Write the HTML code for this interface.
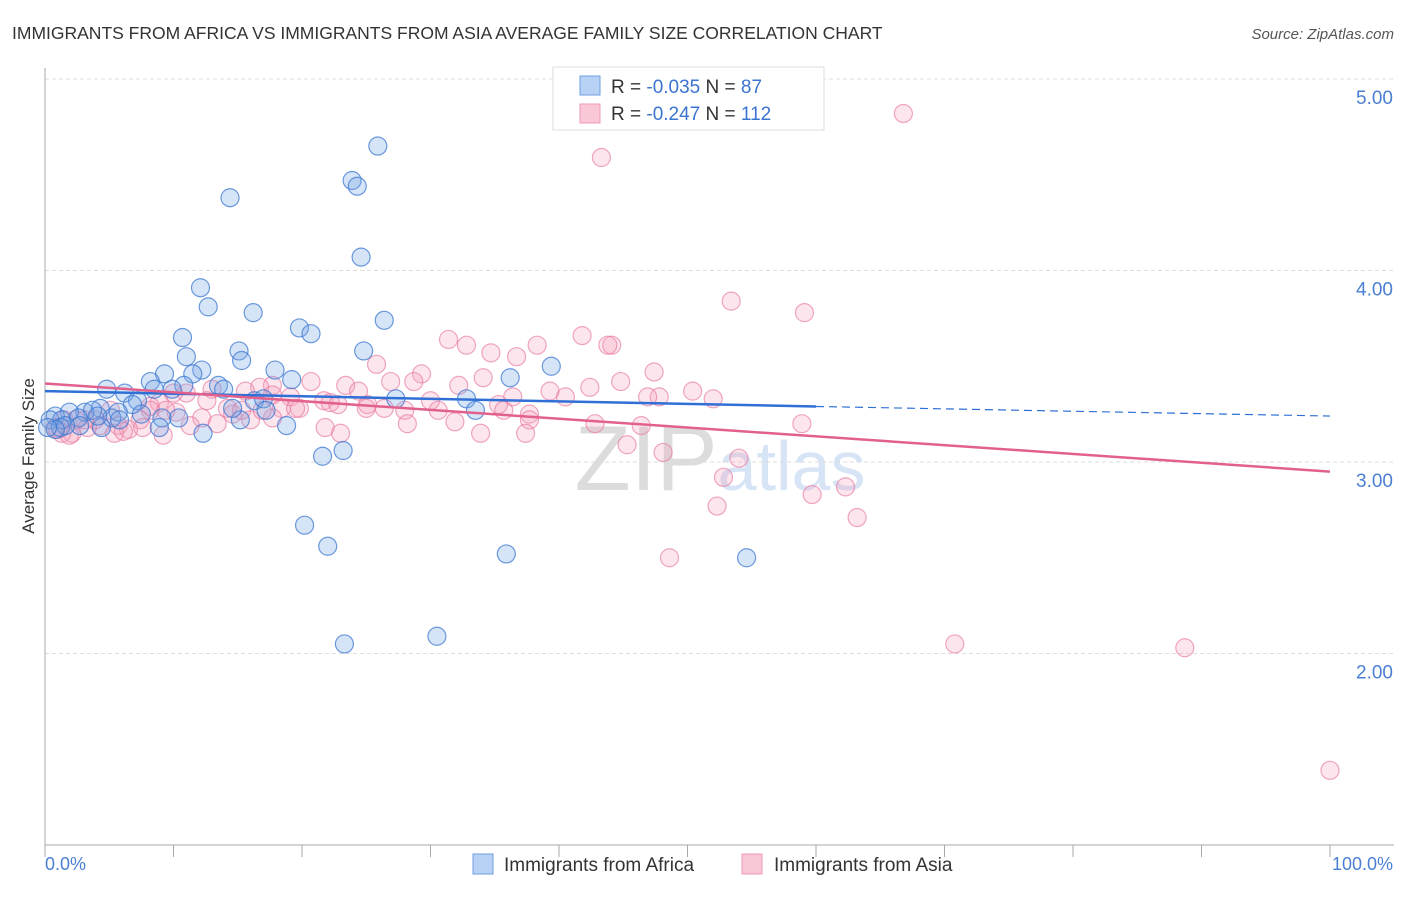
<!DOCTYPE html>
<html><head><meta charset="utf-8"><style>
body{margin:0;background:#fff;font-family:"Liberation Sans",sans-serif;}
svg text{font-family:"Liberation Sans",sans-serif;}
</style></head><body>
<svg id="chart" width="1406" height="892" viewBox="0 0 1406 892" xmlns="http://www.w3.org/2000/svg">
<text x="12" y="39" font-size="17.5" fill="#333">IMMIGRANTS FROM AFRICA VS IMMIGRANTS FROM ASIA AVERAGE FAMILY SIZE CORRELATION CHART</text>
<text x="1394" y="39" font-size="15" fill="#555" text-anchor="end" font-style="italic">Source: ZipAtlas.com</text>
<text x="720" y="490" font-size="92" text-anchor="middle" fill="#e6e6e6" font-family="Liberation Serif"><tspan fill="#dcdcdc">ZIP</tspan><tspan fill="#d6e4f5" font-family="Liberation Sans" font-size="70">atlas</tspan></text>
<g id="grid"></g><g id="axes"></g><g id="pts"></g><g id="trend"></g>
<text transform="translate(34,456) rotate(-90)" font-size="17" fill="#333" text-anchor="middle">Average Family Size</text>
<text x="45" y="870" font-size="18" fill="#4a7fd4">0.0%</text>
<text x="1393" y="870" font-size="18" fill="#4a7fd4" text-anchor="end">100.0%</text>
<g>
<rect x="553" y="67" width="271" height="63" fill="#fff" stroke="#ddd"/>
<rect x="580" y="76" width="20" height="19" fill="#b8d2f5" stroke="#6f9ee0"/>
<rect x="580" y="104" width="20" height="19" fill="#fac7d6" stroke="#ee9ab5"/>
<text x="611" y="93" font-size="19" fill="#333">R = <tspan fill="#3a74d0">-0.035</tspan>   N =  <tspan fill="#3a74d0">87</tspan></text>
<text x="611" y="120" font-size="19" fill="#333">R = <tspan fill="#3a74d0">-0.247</tspan>   N = <tspan fill="#3a74d0">112</tspan></text>
</g>
<g>
<rect x="473" y="854" width="20" height="20" fill="#b8d2f5" stroke="#6f9ee0"/>
<text x="504" y="871" font-size="19" fill="#333">Immigrants from Africa</text>
<rect x="742" y="854" width="20" height="20" fill="#fac7d6" stroke="#ee9ab5"/>
<text x="774" y="871" font-size="19" fill="#333">Immigrants from Asia</text>
</g>
</svg>
<script>
const yTicks=[2,3,4,5];
const yTickLabels=["2.00","3.00","4.00","5.00"];
const africaX=[14.4,25.9,23.9,24.3,24.6,12.1,12.7,16.2,19.8,20.7,26.4,10.7,15.1,24.8,11.0,15.3,39.4,12.2,11.5,9.3,17.9,36.2,19.2,8.2,10.8,4.8,13.5,13.9,8.5,9.9,6.2,7.2,16.3,17.0,27.3,32.8,6.8,4.3,5.7,3.1,3.7,1.9,0.8,0.4,1.3,2.6,5.2,7.5,9.1,10.4,15.2,17.2,33.5,8.9,12.3,18.8,2.7,1.2,4.4,21.6,23.2,20.2,22.0,35.9,54.6,23.3,30.5,1.6,0.8,0.2,5.8,14.6,4.1];
const africaY=[4.38,4.65,4.47,4.44,4.07,3.91,3.81,3.78,3.70,3.67,3.74,3.65,3.58,3.58,3.55,3.53,3.50,3.48,3.46,3.46,3.48,3.44,3.43,3.42,3.40,3.38,3.40,3.38,3.38,3.38,3.36,3.32,3.32,3.33,3.33,3.33,3.30,3.28,3.26,3.26,3.27,3.26,3.24,3.22,3.22,3.23,3.23,3.25,3.23,3.23,3.22,3.27,3.27,3.18,3.15,3.19,3.19,3.18,3.18,3.03,3.06,2.67,2.56,2.52,2.50,2.05,2.09,3.19,3.17,3.18,3.22,3.28,3.24];
const asiaX=[66.8,43.3,53.4,59.1,31.4,32.8,41.8,44.1,43.8,38.3,34.7,36.7,47.4,25.8,29.3,26.9,28.7,44.8,34.1,32.2,39.3,50.4,52.0,42.4,36.4,40.5,47.8,46.9,23.4,24.4,20.7,17.7,16.7,15.6,13.0,12.6,11.0,10.0,8.9,8.2,17.7,19.1,19.8,21.7,22.2,25.1,26.4,28.0,30.0,30.6,22.8,25.0,18.4,19.5,35.3,35.7,37.7,42.8,46.4,31.9,37.7,28.2,37.4,33.9,21.8,23.0,17.7,16.0,14.6,14.2,12.2,13.4,11.3,10.2,8.2,7.4,6.5,5.7,4.3,3.3,2.1,1.3,0.8,2.4,5.1,58.9,45.3,48.1,54.0,52.8,62.3,59.7,52.3,63.2,48.6,70.8,88.7,100,16.9,15.3,9.4,7.6,3.9,3.1,1.5,1.0,1.9,9.2,5.4,6.1];
const asiaY=[4.82,4.59,3.84,3.78,3.64,3.61,3.66,3.61,3.61,3.61,3.57,3.55,3.47,3.51,3.46,3.42,3.42,3.42,3.44,3.40,3.37,3.37,3.33,3.39,3.34,3.34,3.34,3.34,3.40,3.37,3.42,3.40,3.39,3.37,3.38,3.32,3.36,3.36,3.31,3.29,3.35,3.34,3.28,3.32,3.31,3.30,3.28,3.27,3.32,3.27,3.30,3.28,3.28,3.28,3.30,3.27,3.25,3.20,3.19,3.21,3.22,3.20,3.15,3.15,3.18,3.15,3.23,3.22,3.25,3.28,3.23,3.20,3.19,3.26,3.27,3.22,3.17,3.19,3.19,3.18,3.15,3.15,3.18,3.22,3.27,3.20,3.09,3.05,3.02,2.92,2.87,2.83,2.77,2.71,2.50,2.05,2.03,1.39,3.27,3.27,3.27,3.18,3.22,3.22,3.22,3.17,3.14,3.14,3.15,3.16];
const africaTrendX=[0,60,100];
const africaTrendY=[3.37,3.29,3.24];
const asiaTrendX=[0,100];
const asiaTrendY=[3.41,2.95];

const NS="http://www.w3.org/2000/svg";
const X0=45,X1=1330,YB=845,Y5=79;
function sx(v){return X0+(X1-X0)*v/100;}
function sy(v){return YB-(YB-Y5)*(v-1)/4;}
function mk(tag,attrs,parent){const e=document.createElementNS(NS,tag);for(const k in attrs)e.setAttribute(k,attrs[k]);parent.appendChild(e);return e;}
const grid=document.getElementById('grid'),axes=document.getElementById('axes');
yTicks.forEach((t,i)=>{
  const l=mk('line',{x1:X0,x2:1394,y1:sy(t),y2:sy(t),stroke:'#ddd','stroke-dasharray':'4,3'},grid);
  
  
  const tx=mk('text',{x:1393,y:sy(t)+25,'font-size':19,fill:'#4a7fd4','text-anchor':'end'},axes);
  tx.textContent=yTickLabels[i];
  
  
});
const ya=mk('line',{x1:X0,x2:X0,y1:68,y2:YB,stroke:'#aaa'},axes);


const xa=mk('line',{x1:X0,x2:1394,y1:YB,y2:YB,stroke:'#aaa'},axes);


for(let i=0;i<=10;i++){
  const tk=mk('line',{x1:sx(i*10),x2:sx(i*10),y1:YB,y2:YB+12,stroke:'#aaa'},axes);
  
  
}
const pts=document.getElementById('pts');
asiaX.forEach((x,i)=>{
  const c=mk('circle',{cx:sx(x),cy:sy(asiaY[i]),r:9,fill:'rgba(243,160,188,0.28)',stroke:'rgba(232,120,160,0.65)','stroke-width':1.2},pts);
  
  
});
africaX.forEach((x,i)=>{
  const c=mk('circle',{cx:sx(x),cy:sy(africaY[i]),r:9,fill:'rgba(120,165,230,0.3)',stroke:'rgba(60,120,210,0.75)','stroke-width':1.2},pts);
  
  
});
const tr=document.getElementById('trend');
const a1=mk('line',{x1:sx(africaTrendX[0]),y1:sy(africaTrendY[0]),x2:sx(africaTrendX[1]),y2:sy(africaTrendY[1]),stroke:'#2f6fd6','stroke-width':2.5},tr);


const a2=mk('line',{x1:sx(africaTrendX[1]),y1:sy(africaTrendY[1]),x2:sx(africaTrendX[2]),y2:sy(africaTrendY[2]),stroke:'#2f6fd6','stroke-width':1.2,'stroke-dasharray':'8,5'},tr);


const p1=mk('line',{x1:sx(asiaTrendX[0]),y1:sy(asiaTrendY[0]),x2:sx(asiaTrendX[1]),y2:sy(asiaTrendY[1]),stroke:'#e2608c','stroke-width':2.5},tr);


</script>
</body></html>
